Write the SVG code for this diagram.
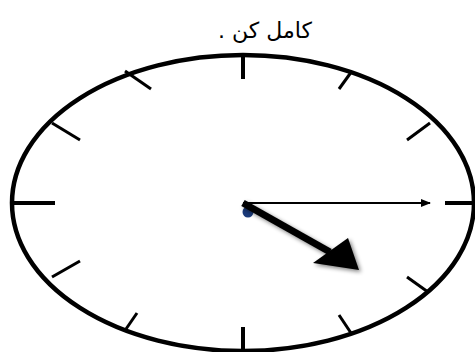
<svg xmlns="http://www.w3.org/2000/svg" width="475" height="352" viewBox="0 0 475 352">
<defs>
<style>
.face{fill:#fff;stroke:#000;stroke-width:4.5}
.tick{stroke:#000;stroke-width:3;stroke-linecap:butt}
.major{stroke:#000;stroke-width:4}
.lbl{font-family:"DejaVu Sans","Noto Sans",sans-serif;font-size:22px;fill:#000}
</style>
<marker id="thin" markerWidth="10" markerHeight="8" refX="9" refY="4" orient="auto" markerUnits="userSpaceOnUse">
<path d="M0,0 L10,4 L0,8 z" fill="#000"/>
</marker>
<filter id="sh" x="-20%" y="-20%" width="140%" height="140%">
<feGaussianBlur in="SourceAlpha" stdDeviation="2"/>
<feOffset dx="2" dy="2"/>
<feComponentTransfer><feFuncA type="linear" slope="0.5"/></feComponentTransfer>
<feMerge><feMergeNode/><feMergeNode in="SourceGraphic"/></feMerge>
</filter>
</defs>
<rect width="475" height="352" fill="#fff"/>
<text class="lbl" x="265" y="38" text-anchor="middle" direction="rtl">کامل کن .</text>
<g id="face">
<ellipse class="face" cx="243" cy="203" rx="231" ry="148"/>
</g>
<g id="ticks">
<line class="major" x1="243" y1="56" x2="243" y2="79"/>
<line class="major" x1="243" y1="327" x2="243" y2="350"/>
<line class="major" x1="13" y1="203" x2="55" y2="203"/>
<line class="major" x1="445" y1="203" x2="473" y2="203"/>
<line class="tick" x1="125" y1="71" x2="151" y2="89"/>
<line class="tick" x1="352" y1="71" x2="339" y2="89"/>
<line class="tick" x1="52" y1="123" x2="80" y2="140"/>
<line class="tick" x1="430" y1="123" x2="407" y2="140"/>
<line class="tick" x1="52" y1="277" x2="80" y2="261"/>
<line class="tick" x1="407" y1="277" x2="428" y2="292"/>
<line class="tick" x1="126" y1="329" x2="137" y2="313"/>
<line class="tick" x1="339" y1="315" x2="351" y2="333"/>
</g>
<g id="hands">
<line x1="243" y1="203" x2="430" y2="203" stroke="#000" stroke-width="2" marker-end="url(#thin)"/>
<circle cx="248" cy="212" r="5.5" fill="#1a3a7a"/>
<g filter="url(#sh)">
<path d="M243,203 L330,252" stroke="#000" stroke-width="7"/>
<path d="M313,263 L348,238 L359,270 z" fill="#000"/>
</g>
</g>
</svg>
